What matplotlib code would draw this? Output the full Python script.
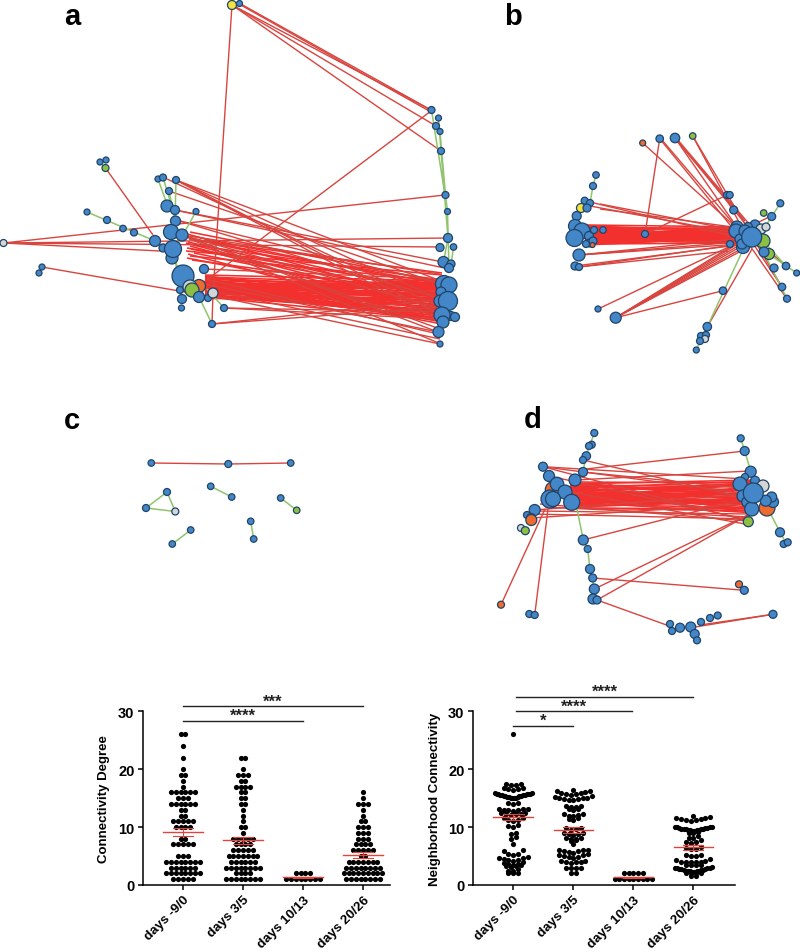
import matplotlib
matplotlib.use("Agg")
import matplotlib.pyplot as plt
from matplotlib.collections import LineCollection
from matplotlib.transforms import ScaledTranslation

plt.rcParams["font.family"] = ["Liberation Sans", "DejaVu Sans"]

W, H = 800, 953
COL = {"b": "#4487c8", "g": "#8cc043", "o": "#ee6a2d", "w": "#d4d6d6", "y": "#f5e23c"}
RED_LINE = "#d8453f"
RED_CORE = "#f2302e"
GREEN_LINE = "#8fc46c"

# network a: nodes
a_x = [232, 239.5, 105.5, 100, 106, 3.5, 87, 107, 123, 134, 155, 42, 39, 158, 163, 176, 169, 196,
       167, 175, 175.5, 172, 171, 163, 182, 173, 204, 183, 180, 199, 190, 192, 182, 181.5, 199, 208, 213, 224, 212,
       431.5, 438.5, 436, 440, 441, 445.5, 447.5, 448, 440, 453.5, 443.5, 451, 449, 444, 449, 441, 440, 451, 455, 448, 442, 443, 438.5, 440]
a_y = [6, 4.5, 169, 163, 161, 244, 213, 221, 229.5, 233.5, 242, 268, 274, 180, 178.5, 181, 192, 212.5,
       207, 211, 222, 259, 233, 249, 236, 250, 270, 277, 291, 287, 288, 291, 300, 309, 298, 299, 294, 309, 325,
       111, 119, 127, 132.5, 152, 196, 212.5, 239, 248.5, 248, 263, 265, 269, 285, 286, 293, 302, 317, 318, 302, 316, 323, 333, 345]
a_d = [9, 6, 7, 6, 6, 7, 6, 7, 6.5, 7, 11, 6, 6, 6, 7, 7, 7, 6,
       12, 9, 10, 12, 15, 8, 12, 17, 9, 22, 7, 13, 14, 14, 9, 6, 11, 7, 10, 7, 7,
       7, 6, 7, 6, 7, 7, 6, 9, 8, 6.5, 11, 8, 9, 17, 16, 10, 12, 9, 9, 19, 16, 12, 11, 6]
a_c = ["y", "b", "g", "b", "b", "w", "b", "b", "b", "b", "b", "b", "b", "b", "b", "b", "b", "b",
       "b", "b", "b", "b", "b", "b", "b", "b", "b", "b", "b", "o", "w", "g", "b", "b", "b", "b", "w", "b", "b",
       "b", "b", "b", "b", "b", "b", "b", "b", "b", "b", "b", "b", "b", "b", "b", "b", "b", "b", "b", "b", "b", "b", "b", "b"]

# network a: red and green edges
a_red = [(232, 6, 431, 111), (239, 4, 431, 111), (239, 5, 431, 113), (232, 6, 436, 127), (232, 6, 441, 152), (232, 6, 213, 294),
         (431, 112, 204, 283), (3.5, 244, 445, 196), (3.5, 244, 448, 239), (3.5, 244, 440, 248), (3.5, 244, 160, 252),
         (105.5, 169, 153, 236), (42, 268, 185, 293), (212, 325, 440, 308), (212, 325, 443, 300), (224, 309, 438, 320), (224, 309, 441, 313), (213, 294, 212, 325),
         (167, 180, 440, 308), (176, 181, 440, 300), (176, 181, 443, 323), (176, 181, 449, 285), (176, 181, 441, 316),
         (169, 192, 440, 285), (175, 211, 443, 263), (175, 211, 449, 270), (176, 221, 443, 285), (176, 221, 441, 300),
         (182, 236, 440, 275), (182, 236, 441, 310), (182, 236, 440, 330), (182, 236, 438, 333), (204, 270, 438, 280), (190, 240, 441, 345),
         (205, 285, 438, 333), (205, 290, 440, 340), (205, 295, 440, 345), (205, 280, 438, 335)]
a_core_y0 = [276, 277, 278, 279, 280, 281, 282, 283, 284, 284, 285, 285, 286, 286, 287, 287, 288, 288, 289, 289, 290, 290,
             291, 291, 292, 292, 293, 293, 294, 294, 295, 295, 296, 296, 297, 298, 299, 300, 298, 296, 294, 292, 290, 288, 286, 284, 282, 280,
             279, 283, 287, 291, 295, 299, 277, 281, 285, 289, 293, 297]
a_core_y1 = [282, 312, 286, 323, 290, 318, 284, 316, 291, 322, 285, 306, 288, 320, 295, 310, 288, 322, 300, 283, 315, 292,
             281, 305, 314, 296, 287, 319, 301, 284, 317, 293, 311, 284, 308, 321, 298, 289, 313, 283, 302, 280, 320, 295, 309, 287, 298, 325,
             290, 300, 310, 320, 286, 294, 304, 316, 286, 296, 306, 312]
a_fan_x0 = [190, 187, 192, 186, 189, 195, 188, 186, 193, 190, 187, 191, 186, 194, 188, 190, 187, 192]
a_fan_y0 = [233, 235, 237, 238, 240, 241, 243, 244, 246, 247, 249, 250, 252, 254, 255, 257, 259, 261]
a_fan_y1 = [283, 305, 288, 296, 274, 285, 300, 310, 281, 316, 290, 298, 276, 304, 322, 282, 308, 295]
a_green = [(105.5, 169, 100, 163), (87, 213, 155, 242), (169, 192, 175, 221), (158, 180, 168, 208), (163, 178.5, 172, 208),
           (176, 181, 175, 221), (196, 212.5, 175, 250), (172, 258, 191, 291), (182, 300, 175, 260), (212, 325, 199, 298),
           (224, 309, 207, 290), (431.5, 111, 445, 196), (440, 132.5, 445.5, 196), (438.5, 119, 441, 152), (441, 152, 448, 239),
           (445.5, 196, 447.5, 212.5), (447.5, 212.5, 449, 270), (448, 239, 443.5, 263), (453.5, 248, 451, 266)]

# network b
b_x = [642.7, 659.7, 675, 692.7, 596, 593, 584.7, 590, 581, 587, 576.7, 575, 582, 589, 594, 603, 590, 586, 593, 592.5,
       574.5, 579, 575, 579, 645, 598, 615.7, 727, 729.7, 733.7, 737, 736, 740, 755, 748, 743, 742, 730, 762, 745, 761, 766, 763,
       751.7, 769, 764, 774, 763.7, 771.7, 780.3, 786, 796.7, 782, 787, 723, 707.3, 701, 706, 705, 700, 696.3]
b_y = [144, 139.7, 139, 137, 176, 187, 201.7, 204, 209, 209, 217, 227, 232, 237, 231, 231, 244, 245, 242, 246,
       239, 256, 267, 268, 235, 310, 318.7, 196, 196, 211, 228, 232, 240, 226, 228, 248, 245, 245, 243, 232, 230, 228, 242,
       238, 255, 253, 269, 214, 217.5, 204.3, 267, 274, 288, 299.7, 291.7, 327.7, 337, 336, 340, 342, 351]
b_d = [6, 7.5, 9.5, 6.5, 6.5, 7, 7, 7, 9, 8, 9, 13, 16, 9, 7, 6.5, 8, 7, 8, 5,
       17, 12, 8, 7, 7, 6, 11, 7, 7, 8, 12, 14, 10, 10, 9, 13, 10, 7, 9, 12, 10, 8, 14,
       20, 11, 10, 8, 6.5, 8, 7, 7.5, 6, 7.5, 7, 7.5, 8.5, 7, 7, 7, 7, 6]
b_c = ["o", "b", "b", "g", "b", "b", "b", "b", "y", "b", "b", "b", "b", "b", "b", "b", "b", "b", "b", "o",
       "b", "b", "b", "b", "b", "b", "b", "b", "b", "b", "b", "b", "b", "b", "b", "b", "b", "b", "b", "b", "w", "w", "g",
       "b", "g", "b", "b", "g", "b", "b", "b", "b", "b", "b", "b", "b", "b", "b", "w", "b", "b"]
b_red = [(642.7, 144, 740, 232), (659.7, 139.7, 645, 235), (659.7, 139.7, 735, 232), (662, 141, 738, 230), (675, 139, 748, 228), (675, 139, 745, 222), (677, 140, 750, 226),
         (675, 139, 787, 300), (692.7, 137, 740, 225), (692.7, 137, 782, 288), (645, 235, 727, 196), (600, 205, 740, 232), (600, 210, 740, 229),
         (590, 207, 740, 235), (594, 204, 745, 240), (598, 310, 735, 245), (615.7, 318.7, 735, 245), (615.7, 318.7, 738, 247),
         (615.7, 318.7, 740, 248), (615.7, 318.7, 741, 250), (615.7, 318.7, 743, 251), (615.7, 318.7, 736, 246), (615.7, 318.7, 723, 291.7), (707.3, 327.7, 752, 250),
         (579, 256, 740, 245), (579, 256, 735, 240), (579, 268, 740, 245), (575, 267, 730, 247), (579, 268, 728, 252),
         (579, 256, 738, 243), (786, 267, 755, 240), (782, 288, 750, 240), (771, 217, 745, 230)]
b_core_y0 = [226, 227, 228, 229, 230, 231, 232, 233, 234, 235, 235, 236, 236, 237, 238, 239, 239, 240, 241, 241, 242, 243, 244, 245,
             227, 229, 231, 233, 235, 237, 239, 241, 243, 245, 228, 230, 232, 234, 236, 238, 240, 242, 244, 246]
b_core_y1 = [228, 240, 231, 237, 243, 229, 234, 246, 238, 231, 241, 228, 236, 244, 233, 239, 230, 245, 235, 242, 237, 231, 240, 244,
             232, 229, 235, 238, 241, 244, 233, 230, 236, 239, 242, 245, 234, 237, 229, 243, 232, 240, 235, 238]
b_green = [(596, 176, 593, 187), (593, 187, 590, 204), (707.3, 327.7, 741, 255), (696.3, 351, 707, 327), (787, 299.7, 765, 256),
           (796.7, 274, 770, 256), (786, 267, 766, 245), (771.7, 217.5, 765, 228), (780.3, 204.3, 772, 217)]

# network c
c_x = [151.3, 228.3, 290.7, 167, 146, 175.3, 210.7, 231.7, 280.7, 296.7, 250.7, 253.7, 190.7, 172.3]
c_y = [464, 465, 464, 493, 509, 512.5, 487.3, 498, 499, 511.3, 522.3, 540, 531, 545]
c_d = [6.5, 7, 6.5, 7, 7, 7, 6.5, 6.5, 6.5, 6.5, 6.5, 6.5, 6.5, 6.5]
c_c = ["b", "b", "b", "b", "b", "w", "b", "b", "b", "g", "b", "b", "b", "b"]
c_red = [(151.3, 464, 228.3, 465), (228.3, 465, 290.7, 464)]
c_green = [(167, 493, 146, 509), (146, 509, 175.3, 512.5), (167, 493, 175.3, 512.5), (210.7, 487.3, 231.7, 498),
           (280.7, 499, 296.7, 511.3), (250.7, 522.3, 253.7, 540), (190.7, 531, 172.3, 545)]

# network d
d_x = [594.3, 591.7, 589, 586.3, 583, 583, 575, 543, 549, 553.3, 557, 565, 550, 553, 571.7, 534.7, 527, 531, 531.3, 521, 525.3,
       583.3, 587.7, 590, 592.7, 594.3, 593, 597, 501, 529.3, 534.7, 670, 672, 680, 690.7, 694.7, 697, 701, 710, 717.7, 773, 739, 744.3,
       740.7, 744.7, 750.7, 745, 755, 740, 763, 767, 773, 771.7, 765.7, 743, 746.7, 751.7, 753.3, 748.3, 780, 783.7, 787.7]
d_y = [434, 445.7, 447, 457, 461, 473, 481, 467.7, 477, 490.7, 485, 493, 500, 500, 503.3, 511, 516, 519, 521, 529, 531.7,
       541, 550, 570, 579, 590, 600, 601, 605.7, 615, 616, 625, 632, 628.7, 628, 635, 641.3, 623, 619, 616.5, 615.3, 585.3, 591.3,
       439.3, 452, 472.7, 478, 481.7, 485, 487, 509, 503, 498, 501.7, 497, 503, 510, 494, 522.7, 533.3, 545, 543.3]
d_d = [7, 7, 7, 8.5, 7, 9, 12, 9, 11, 16, 13.5, 14, 18, 15, 16, 11, 7, 9, 11, 7, 8,
       10, 7, 9, 8, 10, 10, 8, 7, 7, 7, 7, 7, 9, 10, 9, 7, 7, 7, 7, 8, 7, 8,
       7, 9, 11, 7, 9, 14, 12, 16, 11, 10, 11, 12, 10, 14, 20, 10, 9, 7, 7]
d_c = ["b", "b", "b", "b", "b", "b", "b", "b", "b", "o", "b", "b", "b", "b", "b", "b", "b", "b", "o", "w", "g",
       "b", "b", "b", "b", "b", "b", "b", "o", "b", "b", "b", "b", "b", "b", "b", "b", "b", "b", "b", "b", "o", "b",
       "b", "b", "b", "b", "b", "b", "w", "o", "b", "b", "b", "b", "b", "b", "b", "g", "b", "b", "b"]
d_red = [(543, 467.7, 750, 495), (543, 467.7, 748, 522), (543, 467.7, 745, 480), (549, 477, 745, 520), (583, 473, 750, 490), (583, 461, 750, 500), (586, 470, 744.7, 452), (575, 481, 750, 472), (583, 541, 745, 500),
         (592.7, 579, 744.3, 591.3), (594.3, 590, 750, 515), (597, 601, 755, 512), (597, 601, 672, 628), (501, 605.7, 545, 510),
         (534.7, 616, 548, 510), (531, 519, 745, 505), (534, 511, 748, 495), (531, 515, 752, 520), (540, 505, 748, 522), (545, 508, 750, 518), (538, 512, 748, 515),
         (773, 615.3, 695, 628), (773, 615.3, 700, 626), (565, 492, 745, 525)]
d_core_y0 = [483, 484, 486, 487, 488, 489, 490, 491, 492, 493, 494, 495, 496, 497, 498, 499, 500, 501, 502, 503, 504, 505, 506, 507, 508, 509,
             485, 487, 489, 491, 493, 495, 497, 499, 501, 503, 505, 507, 509, 510, 484, 488, 492, 496, 500, 504, 508]
d_core_y1 = [484, 497, 488, 507, 492, 482, 500, 511, 486, 495, 503, 513, 490, 498, 508, 485, 494, 504, 489, 514, 499, 509, 493, 487, 502, 512,
             481, 491, 501, 511, 486, 496, 506, 483, 493, 505, 489, 499, 510, 487, 497, 507, 484, 494, 502, 490, 500]
d_green = [(594.3, 434, 586, 457), (583, 473, 586, 457), (575, 500, 583.3, 541), (583.3, 541, 587.7, 550), (587.7, 550, 590, 570),
           (590, 570, 594.3, 590), (740.7, 439.3, 744.7, 452), (744.7, 452, 750.7, 472), (768, 510, 780, 533), (780, 533, 786, 544)]

# dot plots
categories = ["days -9/0", "days 3/5", "days 10/13", "days 20/26"]
yticks = [0, 10, 20, 30]

# connectivity degree: how many nodes sit on each integer value
degree_values = [
    {26: 2, 24: 1, 22: 1, 20: 1, 19: 2, 18: 1, 17: 1, 16: 6, 15: 3, 14: 6, 13: 2, 12: 2, 11: 5, 10: 4, 8: 2, 7: 5, 5: 3, 4: 8, 3: 6, 2: 8, 1: 5},
    {22: 2, 20: 1, 19: 3, 18: 2, 17: 4, 16: 2, 15: 2, 14: 2, 13: 1, 12: 1, 11: 1, 10: 2, 9: 1, 8: 5, 7: 4, 6: 5, 5: 7, 4: 6, 3: 8, 2: 4, 1: 8},
    {2: 4, 1: 8},
    {16: 1, 15: 1, 14: 3, 13: 1, 12: 1, 11: 2, 10: 3, 9: 3, 8: 3, 7: 4, 6: 5, 5: 2, 4: 7, 3: 8, 2: 9, 1: 8},
]
degree_mean = [9.2, 7.7, 1.3, 5.2]
degree_sem = [0.7, 0.65, 0.08, 0.5]

# neighborhood connectivity, one inner list per band of the swarm
nb_g1 = [[26], [17.3, 17.3, 17.4, 17.4], [16.4, 16.5, 16.5, 16.7, 16.8],
         [15.0, 15.0, 15.05, 15.1, 15.15, 15.2, 15.25, 15.3, 15.35, 15.4, 15.45, 15.5, 15.5, 15.55, 15.6, 15.65, 15.7, 15.7, 15.75, 15.8, 15.85, 15.9],
         [14.0, 14.2, 14.2], [12.8, 12.9, 13.0, 13.0, 13.1, 13.2, 13.2], [12.1, 12.2, 12.2, 12.3, 12.4, 12.4],
         [11.1, 11.2, 11.3, 11.5, 11.6], [10.1, 10.2, 10.3], [8.8, 9.0], [8.0, 8.3], [7.0],
         [5.2, 5.3, 5.4, 5.9, 6.0], [4.2, 4.3, 4.4, 4.5, 4.6, 4.7, 4.8], [3.5, 3.6, 3.7, 3.8, 3.9], [3.1, 3.2, 3.3, 3.4],
         [2.4, 2.5, 2.7], [2.0, 2.0, 2.1]]
nb_g2 = [[16.4], [15.6, 15.7, 15.8, 15.9, 15.9, 16.0, 16.2, 16.3], [14.6, 14.7, 14.8, 14.9, 15.0, 15.0, 15.1, 15.2, 15.3],
         [13.4, 13.5, 13.6, 13.7], [13.0, 13.1, 13.2], [11.9, 12.0, 12.1, 12.2, 12.3], [11.3, 11.4, 11.5],
         [9.5, 9.7, 9.8, 9.8], [8.7, 8.8, 8.8, 8.9, 8.9], [7.9, 8.0, 8.1, 8.2], [7.6, 7.7], [7.0],
         [5.6, 5.7, 5.8, 5.9, 6.0, 6.0, 6.0], [4.7, 4.8, 4.9, 5.0, 5.1, 5.2, 5.3], [3.8, 3.9, 4.0, 4.0, 4.1, 4.2], [3.0, 3.0, 3.0, 3.0], [2.0, 2.0]]
nb_g3 = [[2, 2, 2, 2, 2], [1, 1, 1, 1, 1, 1, 1, 1, 1]]
nb_g4 = [[12.0], [11.1, 11.2, 11.3, 11.4, 11.4, 11.5, 11.6, 11.7],
         [9.4, 9.4, 9.45, 9.5, 9.5, 9.55, 9.6, 9.65, 9.7, 9.7, 9.75, 9.8, 9.85, 9.9, 9.95, 10.0, 10.05, 10.1],
         [9.0, 9.2, 8.9], [8.1, 8.2, 8.4], [7.3, 7.5, 7.5, 7.7], [6.2, 6.3, 6.4, 6.5], [5.0, 5.0, 5.1, 5.2],
         [3.9, 4.0, 4.0, 4.0, 4.0, 4.1, 4.3, 4.5], [3.4, 3.4, 3.5, 3.5],
         [2.3, 2.3, 2.35, 2.4, 2.4, 2.45, 2.5, 2.55, 2.6, 2.65, 2.7, 2.75, 2.8, 2.85, 2.9, 2.95, 3.0, 3.05],
         [2.0, 2.0, 2.0, 2.1], [1.5, 1.5]]
nb_values = [nb_g1, nb_g2, nb_g3, nb_g4]
nb_mean = [11.7, 9.5, 1.3, 6.5]
nb_sem = [0.55, 0.5, 0.08, 0.4]

# (low group, high group, y, stars)
degree_brackets = [(0, 2, 28.4, "****"), (0, 3, 30.9, "***")]
nb_brackets = [(0, 1, 27.5, "*"), (0.05, 1.97, 30, "****"), (0.05, 3, 32.5, "****")]


def draw_network(ax, xs, ys, ds, cs, red, green, cores=()):
    for x0s, x1, y0s, y1s in cores:
        if not isinstance(x0s, list):
            x0s = [x0s] * len(y0s)
        segs = [((x0, a), (x1, b)) for x0, a, b in zip(x0s, y0s, y1s)]
        ax.add_collection(LineCollection(segs, colors=RED_CORE, linewidths=1.15, zorder=1))
    ax.add_collection(LineCollection([((s[0], s[1]), (s[2], s[3])) for s in red],
                                     colors=RED_LINE, linewidths=1.0, zorder=1.2))
    ax.add_collection(LineCollection([((s[0], s[1]), (s[2], s[3])) for s in green],
                                     colors=GREEN_LINE, linewidths=1.1, zorder=1.5))
    ax.scatter(xs, ys, s=[(d * 0.72) ** 2 for d in ds], c=[COL[c] for c in cs],
               edgecolors="#1f4468", linewidths=0.9, zorder=3)


def row_layout(counts, step):
    xs, ys = [], []
    for val, n in counts.items():
        for i in range(n):
            xs.append((i - (n - 1) / 2) * step)
            ys.append(val)
    return xs, ys


def band_layout(bands, step, max_span):
    # lowest value in the middle, the rest going outwards on both sides
    xs, ys = [], []
    for band in bands:
        vals = sorted(band)
        n = len(vals)
        st = step if n < 2 else min(step, max_span / (n - 1))
        slots = sorted(range(n), key=lambda i: abs(i - (n - 1) / 2))
        for v, slot in zip(vals, slots):
            xs.append((slot - (n - 1) / 2) * st)
            ys.append(v)
    return xs, ys


def style_dotplot(ax, ylabel, lab_x, means, sems, brackets):
    ax.set_ylim(0, 30)
    ax.set_yticks(yticks)
    ax.set_xticks(range(len(categories)))
    shift = ScaledTranslation(5 / 100, -5 / 100, fig.dpi_scale_trans)
    ax.set_xticklabels(categories, rotation=45, ha="right", rotation_mode="anchor", fontweight="bold", fontsize=9.6)
    for lab in ax.get_xticklabels():
        lab.set_transform(lab.get_transform() + shift)
    ax.set_ylabel(ylabel, fontweight="bold", fontsize=9.5)
    ax.yaxis.set_label_coords(lab_x, 0.5)
    for lab in ax.get_yticklabels():
        lab.set_fontweight("bold")
        lab.set_fontsize(10.5)
    ax.tick_params(width=1.1, length=3.6, pad=2.5)
    for s in ("top", "right"):
        ax.spines[s].set_visible(False)
    for s in ("left", "bottom"):
        ax.spines[s].set_linewidth(1.1)
    ax.patch.set_alpha(0)
    for i, (m, e) in enumerate(zip(means, sems)):
        ax.plot([i - 0.33, i + 0.33], [m, m], color="#e2443c", lw=1, zorder=4)
        ax.plot([i - 0.17, i + 0.17], [m - e, m - e], color="#e2443c", lw=0.8, zorder=4)
        ax.plot([i - 0.17, i + 0.17], [m + e, m + e], color="#e2443c", lw=0.8, zorder=4)
        ax.plot([i, i], [m - e, m + e], color="#e2443c", lw=0.8, zorder=4)
    for lo, hi, y, stars in brackets:
        ax.plot([lo, hi], [y, y], color="#222222", lw=1, clip_on=False)
        ax.text((lo + hi) / 2, y - 0.4, stars, ha="center", va="bottom", fontsize=12, fontweight="bold", color="#222222", clip_on=False)


fig = plt.figure(figsize=(W / 100, H / 100), dpi=100)
net = fig.add_axes([0, 0, 1, 1])
net.set_xlim(0, W)
net.set_ylim(H, 0)
net.axis("off")

draw_network(net, a_x, a_y, a_d, a_c, a_red, a_green,
             [(205, 442, a_core_y0, a_core_y1), (a_fan_x0, 442, a_fan_y0, a_fan_y1)])
draw_network(net, b_x, b_y, b_d, b_c, b_red, b_green, [(585, 748, b_core_y0, b_core_y1)])
draw_network(net, c_x, c_y, c_d, c_c, c_red, c_green)
draw_network(net, d_x, d_y, d_d, d_c, d_red, d_green, [(570, 757, d_core_y0, d_core_y1)])

for label, x, y in [("a", 72, 17), ("b", 513, 17), ("c", 72, 421), ("d", 533, 420)]:
    net.text(x, y, label, fontsize=21, fontweight="bold", ha="center", va="center")

UNIT_X = 60.0
DOT = 4.8
ax1 = fig.add_axes([143 / W, 1 - 886 / H, 247 / W, 173.7 / H])
ax1.set_xlim((143 - 183) / UNIT_X, (390 - 183) / UNIT_X)
for i, counts in enumerate(degree_values):
    dx, dy = row_layout(counts, DOT / UNIT_X)
    ax1.scatter([i + d for d in dx], dy, s=14, color="black", linewidths=0, zorder=3, clip_on=False)
style_dotplot(ax1, "Connectivity Degree", (110 - 143) / 247, degree_mean, degree_sem, degree_brackets)

ax2 = fig.add_axes([473 / W, 1 - 886 / H, 262 / W, 173.7 / H])
ax2.set_xlim((473 - 513.3) / UNIT_X, (735 - 513.3) / UNIT_X)
for i, bands in enumerate(nb_values):
    dx, dy = band_layout(bands, DOT / UNIT_X, 37 / UNIT_X)
    ax2.scatter([i + d for d in dx], dy, s=14, color="black", linewidths=0, zorder=3, clip_on=False)
style_dotplot(ax2, "Neighborhood Connectivity", (441 - 473) / 262, nb_mean, nb_sem, nb_brackets)

fig.savefig("out.png", dpi=100)
